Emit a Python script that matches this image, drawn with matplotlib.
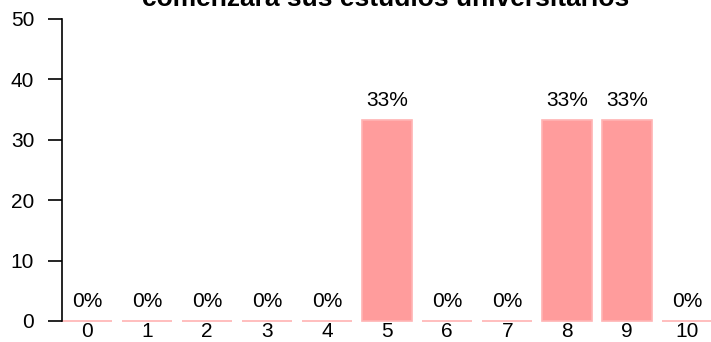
import matplotlib
matplotlib.use("Agg")
import matplotlib.pyplot as plt
import numpy as np

plt.rcParams["font.family"] = ["Liberation Sans", "DejaVu Sans"]

categories = ["0", "1", "2", "3", "4", "5", "6", "7", "8", "9", "10"]
percent = [0, 0, 0, 0, 0, 33.33, 0, 0, 33.33, 33.33, 0]
title = "comenzara sus estudios universitarios"

W, H = 711, 342
fig = plt.figure(figsize=(W / 100, H / 100), dpi=100)
ax = fig.add_axes([62 / W, 21 / H, (W - 62) / W, (321 - 19) / H])

x = np.arange(len(categories))
bar_color = "#FF9C9C"
bars = ax.bar(x, percent, width=0.833, color=bar_color, edgecolor="#FFB3B3",
              linewidth=1.2, clip_on=False)

for xi, v in zip(x, percent):
    ax.annotate(f"{v:.0f}%", (xi, v), xytext=(0, 7), textcoords="offset points",
                ha="center", va="bottom", fontsize=15, annotation_clip=False)

ax.set_xlim(-0.42, -0.42 + (W - 62) / 60.0)
ax.set_ylim(0, 50)
ax.set_yticks([0, 10, 20, 30, 40, 50])
ax.set_xticks(x)
ax.set_xticklabels(categories)

for side in ("top", "right", "bottom"):
    ax.spines[side].set_visible(False)
ax.spines["left"].set_linewidth(1.2)
ax.tick_params(axis="y", length=10, width=1.2, pad=10, labelsize=15)
ax.tick_params(axis="x", length=0, pad=1, labelsize=15)

fig.text(386 / W, 1 - 6 / H, title, ha="center", va="baseline",
         fontsize=19, fontweight="bold")

fig.savefig("out.png", dpi=100)
